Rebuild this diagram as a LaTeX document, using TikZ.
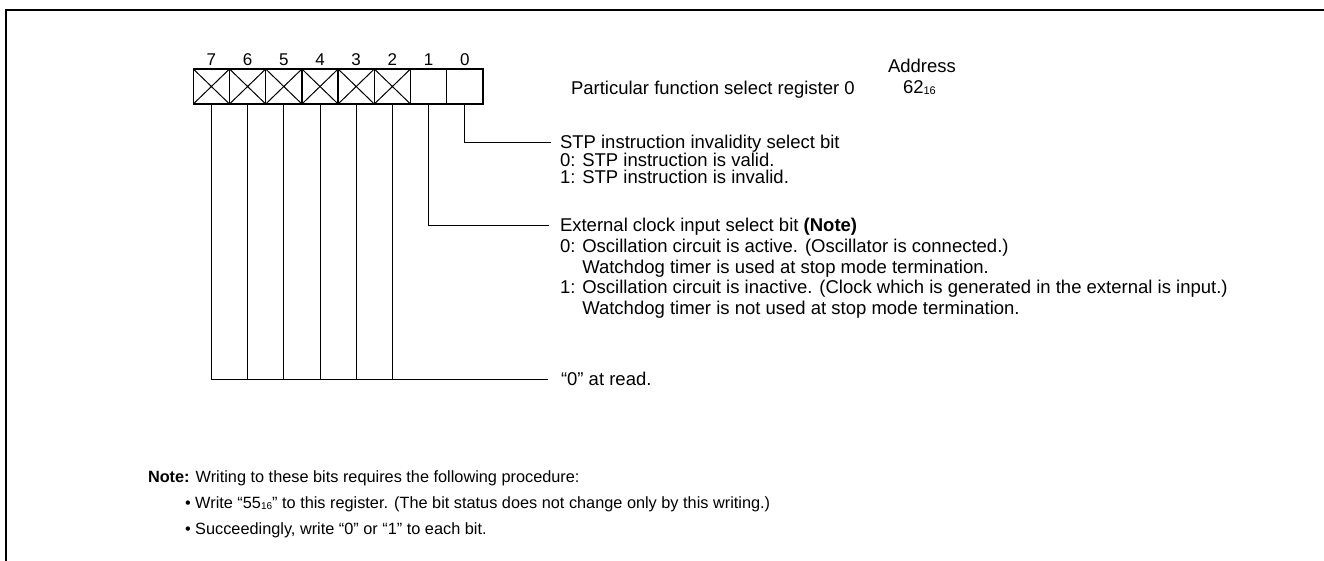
\documentclass[tikz,border=0pt]{standalone}
\usepackage{fontspec}
\setmainfont{Liberation Sans}
\newcommand{\sixteen}{\raisebox{-1pt}{\fontsize{11}{11}\selectfont 16}}
\newcommand{\sixteensm}{\raisebox{-1pt}{\fontsize{10}{10}\selectfont 16}}
\begin{document}
\begin{tikzpicture}[x=1pt,y=-1pt,
  bitbox/.style={draw, line width=1.4pt, minimum width=36.2pt, minimum height=35pt, inner sep=0pt, outer sep=0pt},
  conn/.style={line width=1pt},
  digit/.style={anchor=base, inner sep=0pt, font=\fontsize{17}{20}\selectfont},
  txt/.style={anchor=base west, inner sep=0pt, outer sep=0pt, font=\fontsize{18.5}{21}\selectfont},
  ntxt/.style={anchor=base west, inner sep=0pt, outer sep=0pt, font=\fontsize{16.3}{20}\selectfont}
]
\useasboundingbox (0,0) rectangle (1324,560);
\draw[line width=2.5pt] (6,580) -- (6,10) -- (1340,10);

\foreach \b [count=\i from 0] in {7,6,5,4,3,2,1,0} {
  \node[bitbox] (b\b) at ({211.4+\i*36.2},86.5) {};
  \node[digit] (d\b) at ({211.4+\i*36.2},65.7) {\b};
}
\foreach \b in {7,6,5,4,3,2} {
  \draw[line width=1pt] (b\b.north west) -- (b\b.south east) (b\b.north east) -- (b\b.south west);
}

\node[txt] (title) at (571,94) {Particular function select register 0};
\node[txt] (addr) at (888,72.7) {Address};
\node[txt] (addrv) at (903,93) {62\sixteen};

\coordinate (c0) at (551,142);
\draw[conn] (b0.south) |- (c0);
\node[txt] (s0) at (560,148.3) {STP instruction invalidity select bit};
\node[txt] (s1) at (560,166) {0: STP instruction is valid.};
\node[txt] (s2) at (560,183.3) {1: STP instruction is invalid.};

\coordinate (c1) at (549,225);
\draw[conn] (b1.south) |- (c1);
\node[txt] (e0) at (560,231.5) {External clock input select bit \textbf{(Note)}};
\node[txt] (e1) at (560,252.5) {0: Oscillation circuit is active. (Oscillator is connected.)};
\node[txt] (e2) at (560,273) {\phantom{0: }Watchdog timer is used at stop mode termination.};
\node[txt] (e3) at (560,293.5) {1: Oscillation circuit is inactive. (Clock which is generated in the external is input.)};
\node[txt] (e4) at (560,314) {\phantom{1: }Watchdog timer is not used at stop mode termination.};

\coordinate (c2) at (548,379);
\draw[conn] (b7.south) |- (c2);
\foreach \b in {6,5,4,3,2} {
  \draw[conn] (b\b.south) -- (b\b.south |- c2);
}
\node[txt] (r0) at (561,385.5) {“0” at read.};

\node[ntxt] (n0) at (148,482) {\textbf{Note:} Writing to these bits requires the following procedure:};
\node[ntxt] (n1) at (185,508) {• Write “55\sixteensm” to this register. (The bit status does not change only by this writing.)};
\node[ntxt] (n2) at (185,534) {• Succeedingly, write “0” or “1” to each bit.};
\end{tikzpicture}
\end{document}
